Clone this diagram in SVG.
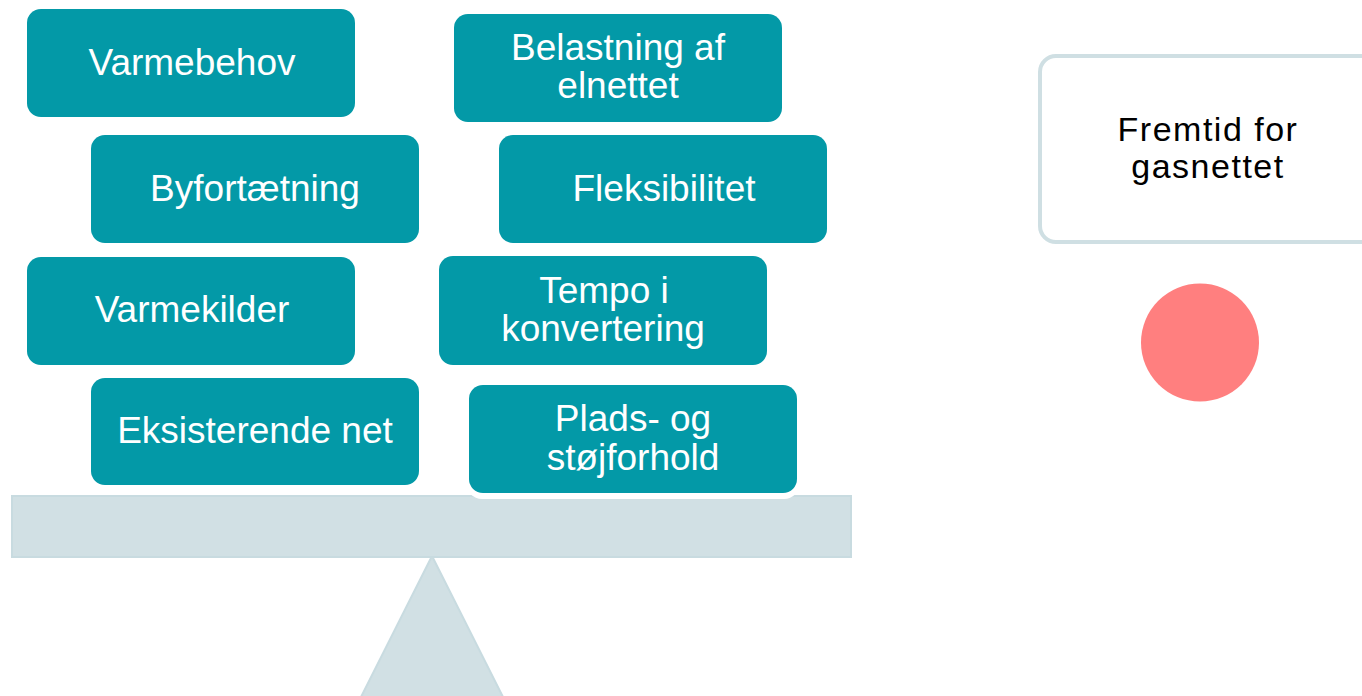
<svg xmlns="http://www.w3.org/2000/svg" width="1362" height="696" viewBox="0 0 1362 696">
<style>
.box{fill:#0399A7;}
.t{font-family:"Liberation Sans",Arial,sans-serif;font-size:37px;fill:#FFFFFF;text-anchor:middle;}
.dark{font-family:"Liberation Sans",Arial,sans-serif;font-size:34px;letter-spacing:1.5px;fill:#000000;text-anchor:middle;}
.scale{fill:#D1E0E4;stroke:#C8DBE0;stroke-width:2;}
</style>
<rect width="1362" height="696" fill="#FFFFFF"/>
<g id="fulcrum">
<polygon class="scale" points="432,556 361,697 503,697"/>
</g>
<g id="beam">
<rect class="scale" x="12" y="496" width="839" height="61"/>
</g>
<g id="varmebehov">
<rect class="box" x="27" y="9" width="328" height="108" rx="14"/>
<text class="t" x="192" y="75">Varmebehov</text>
</g>
<g id="byfortaetning">
<rect class="box" x="91" y="135" width="328" height="108" rx="14"/>
<text class="t" x="255" y="201">Byfortætning</text>
</g>
<g id="varmekilder">
<rect class="box" x="27" y="257" width="328" height="108" rx="14"/>
<text class="t" x="192" y="322">Varmekilder</text>
</g>
<g id="eksisterende-net">
<rect class="box" x="91" y="378" width="328" height="107" rx="14"/>
<text class="t" x="255" y="443">Eksisterende net</text>
</g>
<g id="belastning">
<rect class="box" x="454" y="14" width="328" height="108" rx="14"/>
<text class="t" x="618" y="60">Belastning af</text>
<text class="t" x="618" y="98">elnettet</text>
</g>
<g id="fleksibilitet">
<rect class="box" x="499" y="135" width="328" height="108" rx="14"/>
<text class="t" x="664" y="201">Fleksibilitet</text>
</g>
<g id="tempo">
<rect class="box" x="439" y="256" width="328" height="109" rx="14"/>
<text class="t" x="604" y="303">Tempo i</text>
<text class="t" x="603" y="341">konvertering</text>
</g>
<g id="plads">
<rect x="466" y="382" width="334" height="117" rx="16" fill="#FFFFFF"/>
<rect class="box" x="469" y="385" width="328" height="108" rx="14"/>
<text class="t" x="633" y="431">Plads- og</text>
<text class="t" x="633" y="470">støjforhold</text>
</g>
<g id="fremtid">
<rect x="1040" y="56" width="340" height="186" rx="16" fill="#FFFFFF" stroke="#CFDFE3" stroke-width="4"/>
<text class="dark" x="1208" y="141">Fremtid for</text>
<text class="dark" x="1208" y="178">gasnettet</text>
</g>
<g id="indicator">
<circle cx="1200" cy="342.5" r="59" fill="#FF7F7F"/>
</g>
<g id="connectors"></g>
</svg>
